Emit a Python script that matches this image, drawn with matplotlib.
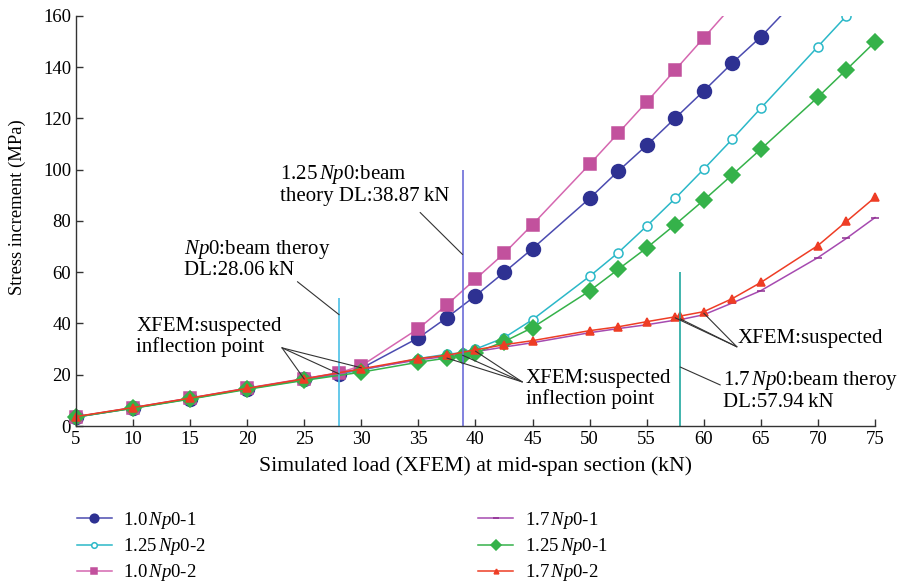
import matplotlib
matplotlib.use("Agg")
import matplotlib.pyplot as plt
from matplotlib.transforms import Bbox, TransformedBbox

plt.rcParams["font.family"] = ["Liberation Serif", "DejaVu Serif"]
plt.rcParams["mathtext.fontset"] = "custom"
plt.rcParams["mathtext.rm"] = "Liberation Serif"
plt.rcParams["mathtext.it"] = "Liberation Serif:italic"

# --- data ---
x_10_1 = [5, 10, 15, 20, 25, 28.06, 30, 35, 37.5, 40, 42.5, 45, 50, 52.5, 55, 57.5, 60, 62.5, 65, 67.5]
y_10_1 = [3.5, 7.0, 10.7, 14.6, 18.2, 20.2, 22.5, 34.4, 42.3, 50.8, 59.9, 69.2, 88.8, 99.4, 109.5, 120.1, 130.7, 141.6, 151.8, 163.5]

x_10_2 = [5, 10, 15, 20, 25, 28.06, 30, 35, 37.5, 40, 42.5, 45, 50, 52.5, 55, 57.5, 60, 62.5]
y_10_2 = [3.6, 7.2, 10.9, 14.8, 18.5, 20.8, 23.5, 38.0, 47.3, 57.3, 67.3, 78.6, 102.1, 114.2, 126.4, 138.9, 151.4, 164.0]

x_125_2 = [5, 10, 15, 20, 25, 30, 35, 37.5, 38.87, 40, 42.5, 45, 50, 52.5, 55, 57.5, 60, 62.5, 65, 70, 72.5, 75]
y_125_2 = [3.5, 7.0, 10.6, 14.5, 18.0, 21.8, 26.3, 28.0, 28.6, 30.0, 34.4, 41.5, 58.4, 67.6, 78.0, 88.8, 100.2, 111.9, 124.0, 148.0, 160.0, 172.0]

x_125_1 = [5, 10, 15, 20, 25, 30, 35, 37.5, 38.87, 40, 42.5, 45, 50, 52.5, 55, 57.5, 60, 62.5, 65, 70, 72.5, 75]
y_125_1 = [3.5, 6.9, 10.5, 14.3, 17.8, 21.0, 24.9, 26.5, 27.4, 28.6, 32.9, 38.4, 52.7, 61.1, 69.5, 78.6, 88.1, 98.0, 108.0, 128.3, 139.0, 149.8]

x_17 = [5, 10, 15, 20, 25, 30, 35, 37.5, 40, 42.5, 45, 50, 52.5, 55, 57.5, 57.94, 60, 62.5, 65, 70, 72.5, 75]
y_17_2 = [3.7, 7.2, 10.9, 14.7, 18.4, 22.3, 26.3, 27.6, 29.7, 31.7, 33.3, 37.2, 38.7, 40.7, 42.6, 42.9, 44.6, 49.7, 56.0, 70.4, 79.8, 89.2]
y_17_1 = [3.6, 7.1, 10.8, 14.6, 18.3, 22.1, 25.8, 27.2, 29.0, 30.8, 32.5, 36.4, 38.0, 39.5, 41.3, 41.5, 43.4, 48.0, 52.8, 65.7, 73.2, 81.3]

# beam theory design loads (kN) and heights of the marker lines (MPa)
dl_loads = [28.06, 38.87, 57.94]
dl_tops = [50, 100, 60]
dl_colors = ["#4cc0e6", "#6c6cd8", "#20a8a0"]

fig = plt.figure(figsize=(8.99, 5.86), dpi=100)
ax = fig.add_axes([0.0845, 0.273, 0.8888, 0.700])

# clip only at the top so the first markers on the y axis stay whole
clip = TransformedBbox(Bbox([[-0.05, -0.1], [1.05, 1.0]]), ax.transAxes)

series = [
    (x_10_1, y_10_1, "#2e3192", "#4b4bb0", "o", 10, "full", r"1.0$\,Np$0-1"),
    (x_125_2, y_125_2, "#2bb8c8", "#2bb8c8", "o", 6.5, "none", r"1.25$\,Np$0-2"),
    (x_10_2, y_10_2, "#c2519d", "#d567b0", "s", 8, "full", r"1.0$\,Np$0-2"),
    (x_17, y_17_1, "#8e2d91", "#a64ab0", "_", 6, "full", r"1.7$\,Np$0-1"),
    (x_125_1, y_125_1, "#35b24a", "#35b24a", "D", 8, "full", r"1.25$\,Np$0-1"),
    (x_17, y_17_2, "#ee3d25", "#ee3d25", "^", 5.5, "full", r"1.7$\,Np$0-2"),
]

handles = []
for xs, ys, mc, lc, mk, ms, fill, lab in series:
    face = "white" if fill == "none" else mc
    ln, = ax.plot(xs, ys, color=lc, lw=1.1, marker=mk, ms=ms, mfc=face,
                  mec=mc, mew=1.1, label=lab)
    ln.set_clip_box(clip)
    handles.append(ln)

for xv, top, c in zip(dl_loads, dl_tops, dl_colors):
    ax.vlines(xv, 0, top, color=c, lw=1.2)

ax.set_xlim(5, 75)
ax.set_ylim(0, 160)
ax.set_xticks(range(5, 80, 5))
ax.set_yticks(range(0, 180, 20))
ax.tick_params(direction="in", length=5, width=1, labelsize=13.5, color="#333333")
for s in ["top", "right"]:
    ax.spines[s].set_visible(False)
for s in ["left", "bottom"]:
    ax.spines[s].set_color("#333333")
    ax.spines[s].set_linewidth(1.0)

ax.set_xlabel("Simulated load (XFEM) at mid-span section (kN)", fontsize=15.7, labelpad=6)
ax.set_ylabel("Stress increment (MPa)", fontsize=13.4)
ax.yaxis.set_label_coords(-0.063, 0.534)

# --- annotations ---
fs = 15
lp = dict(arrowstyle="-", color="#333333", lw=0.8, shrinkA=0, shrinkB=0)

ax.text(10.3, 42.5, "XFEM:suspected\ninflection point", fontsize=fs, va="top", ha="left",
        linespacing=1.05)
for px, py in [(25, 18.3), (28.06, 20.3), (30, 22.7)]:
    ax.annotate("", xy=(px, py), xytext=(23.05, 30.5), arrowprops=lp)

ax.text(14.5, 73.5, "$Np$0:beam theroy\nDL:28.06\u2009kN", fontsize=fs, va="top", ha="left",
        linespacing=1.05)
ax.annotate("", xy=(28.06, 43.4), xytext=(24.4, 56.3), arrowprops=lp)

ax.text(22.9, 102.5, "1.25$\\,Np$0:beam\ntheory DL:38.87\u2009kN", fontsize=fs, va="top",
        ha="left", linespacing=1.05)
ax.annotate("", xy=(38.87, 66.9), xytext=(35.15, 83.3), arrowprops=lp)

ax.text(44.4, 22.3, "XFEM:suspected\ninflection point", fontsize=fs, va="top", ha="left",
        linespacing=1.05)
for px, py in [(37.5, 26.5), (38.87, 27.6), (40, 29.2)]:
    ax.annotate("", xy=(px, py), xytext=(44.1, 17.2), arrowprops=lp)

ax.text(63.0, 38.0, "XFEM:suspected", fontsize=fs, va="top", ha="left")
for px, py in [(57.5, 42.2), (57.94, 41.8), (60, 44.0)]:
    ax.annotate("", xy=(px, py), xytext=(62.9, 30.9), arrowprops=lp)

ax.text(61.7, 22.3, "1.7$\\,Np$0:beam theroy\nDL:57.94\u2009kN", fontsize=fs, va="top",
        ha="left", linespacing=1.05)
ax.annotate("", xy=(57.94, 23.0), xytext=(61.45, 16.0), arrowprops=lp)

# --- legend in two columns below the axes ---
leg_kw = dict(frameon=False, fontsize=13.5, handlelength=1.87, handletextpad=0.6,
              labelspacing=0.28, borderpad=0, borderaxespad=0, markerscale=0.62)
fig.legend(handles=handles[:3], loc="upper left", bbox_to_anchor=(0.0855, 0.1297), **leg_kw)
fig.legend(handles=handles[3:], loc="upper left", bbox_to_anchor=(0.532, 0.1297), **leg_kw)

fig.savefig("out.png", dpi=100)
